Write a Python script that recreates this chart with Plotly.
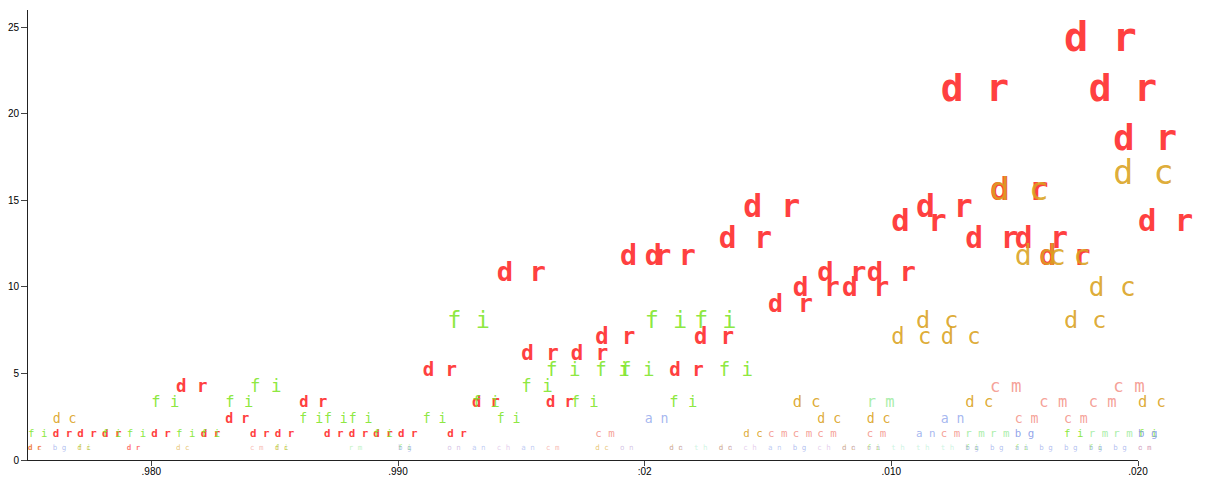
import math
import plotly.graph_objects as go

# ---- data: one small series per two-letter code (year, share) ----
dr_years = [1975, 1976, 1977, 1978, 1979, 1980, 1981, 1982, 1983, 1984, 1985, 1986,
            1987, 1988, 1989, 1990, 1991, 1992, 1993, 1994, 1995, 1996, 1997, 1998,
            1999, 2000, 2001, 2002, 2003, 2004, 2005, 2006, 2007, 2008, 2009, 2010,
            2011, 2012, 2013, 2014, 2015, 2016, 2017, 2018, 2019, 2020]
dr_values = [0.66, 1.5, 1.5, 1.5, 0.66, 1.5, 4.2, 1.5, 2.32, 1.5, 1.5, 3.26,
             1.5, 1.5, 1.5, 1.5, 5.1, 1.5, 3.26, 10.75, 6.1, 3.26, 6.1, 7.0,
             11.7, 11.7, 5.1, 7.0, 12.7, 14.5, 8.9, 9.85, 10.75, 9.85, 10.75, 13.7,
             14.5, 21.3, 12.7, 15.5, 12.7, 11.7, 24.2, 21.3, 18.4, 13.7]

fi_years = [1975, 1977, 1978, 1979, 1980, 1981, 1982, 1983, 1984, 1985, 1986, 1987,
            1988, 1989, 1990, 1991, 1992, 1993, 1994, 1995, 1996, 1997, 1998, 1999,
            2000, 2001, 2002, 2003, 2009, 2013, 2015, 2017, 2018, 2020]
fi_values = [1.5, 0.66, 1.5, 1.5, 3.26, 1.5, 1.5, 3.26, 4.2, 0.66, 2.32, 2.32,
             2.32, 1.5, 0.66, 2.32, 7.95, 3.26, 2.32, 4.2, 5.1, 3.26, 5.1, 5.1,
             7.95, 3.26, 7.95, 5.1, 0.66, 0.66, 0.66, 1.5, 0.66, 1.5]

dc_years = [1975, 1976, 1977, 1981, 1985, 1998, 2001, 2003, 2004, 2006, 2007, 2008,
            2009, 2010, 2011, 2012, 2013, 2014, 2015, 2016, 2017, 2018, 2019, 2020]
dc_values = [0.66, 2.32, 0.66, 0.66, 0.66, 0.66, 0.66, 0.66, 1.5, 3.26, 2.32, 0.66,
             2.32, 7.0, 7.95, 7.0, 3.26, 15.5, 11.7, 11.7, 7.95, 9.85, 16.4, 3.26]

cm_years = [1984, 1996, 1998, 2005, 2006, 2007, 2009, 2012, 2014, 2015, 2016, 2017,
            2018, 2019, 2020]
cm_values = [0.66, 0.66, 1.5, 1.5, 1.5, 1.5, 1.5, 1.5, 4.2, 2.32, 3.26, 2.32,
             3.26, 4.2, 0.66]

rm_years = [1988, 2009, 2013, 2014, 2018, 2019]
rm_values = [0.66, 3.26, 1.5, 1.5, 1.5, 1.5]

an_years = [1993, 1995, 2000, 2005, 2011, 2012, 2015]
an_values = [0.66, 0.66, 2.32, 0.66, 1.5, 2.32, 0.66]

bg_years = [1976, 1990, 2006, 2013, 2014, 2015, 2016, 2017, 2018, 2019, 2020]
bg_values = [0.66, 0.66, 0.66, 0.66, 0.66, 1.5, 0.66, 0.66, 0.66, 0.66, 1.5]

ch_years = [1994, 2004, 2007]
ch_values = [0.66, 0.66, 0.66]

on_years = [1992, 1999, 2001, 2003, 2008, 2009, 2020]
on_values = [0.66, 0.66, 0.66, 0.66, 0.66, 0.66, 0.66]

th_years = [2002, 2010, 2011, 2012]
th_values = [0.66, 0.66, 0.66, 0.66]

x_tick_values = [1980, 1990, 2000, 2010, 2020]
x_tick_labels = [".980", ".990", ":02", ".010", ".020"]
y_tick_values = [0, 5, 10, 15, 20, 25]

# ---- styling per code ----
series = [
    ("dr", dr_years, dr_values, (255, 64, 64), "bold"),
    ("fi", fi_years, fi_values, (126, 229, 40), "normal"),
    ("dc", dc_years, dc_values, (218, 162, 32), "normal"),
    ("cm", cm_years, cm_values, (244, 150, 140), "normal"),
    ("rm", rm_years, rm_values, (160, 236, 160), "normal"),
    ("an", an_years, an_values, (155, 175, 238), "normal"),
    ("bg", bg_years, bg_values, (135, 155, 232), "normal"),
    ("ch", ch_years, ch_values, (214, 178, 226), "normal"),
    ("on", on_years, on_values, (192, 164, 216), "normal"),
    ("th", th_years, th_values, (178, 238, 210), "normal"),
]


def font_size(v):
    return 1 + 8 * math.sqrt(v)


def rgba(rgb, v, base):
    alpha = min(1.0, 0.45 + 0.4 * v) * base
    return "rgba(%d,%d,%d,%.3f)" % (rgb[0], rgb[1], rgb[2], alpha)


fig = go.Figure()
for code, years, values, rgb, weight in series:
    base = 1.0 if code == "dr" else 0.9
    fig.add_trace(go.Scatter(
        x=years,
        y=values,
        mode="text",
        text=[" ".join(code)] * len(years),
        textposition="middle right",
        textfont=dict(
            family="DejaVu Sans Mono",
            size=[font_size(v) for v in values],
            color=[rgba(rgb, v, base) for v in values],
            weight=weight,
        ),
        cliponaxis=False,
        hoverinfo="skip",
        showlegend=False,
    ))

axis_font = dict(family="Liberation Sans, Arial, sans-serif", size=10, color="#000")

fig.update_layout(
    width=1205,
    height=479,
    margin=dict(l=28, r=67, t=10, b=19, autoexpand=False),
    paper_bgcolor="white",
    plot_bgcolor="white",
    showlegend=False,
    xaxis=dict(
        range=[1975, 2020],
        tickvals=x_tick_values,
        ticktext=x_tick_labels,
        showgrid=False,
        zeroline=False,
        showline=True,
        linecolor="#222",
        linewidth=1,
        ticks="outside",
        ticklen=5,
        tickcolor="#444",
        tickfont=axis_font,
        ticklabelstandoff=-3,
        automargin=False,
    ),
    yaxis=dict(
        range=[0, 26],
        tickvals=y_tick_values,
        showgrid=False,
        zeroline=False,
        showline=True,
        linecolor="#222",
        linewidth=1,
        ticks="outside",
        ticklen=6,
        tickcolor="#444",
        tickfont=axis_font,
        automargin=False,
    ),
)

fig.write_html("out.html")
